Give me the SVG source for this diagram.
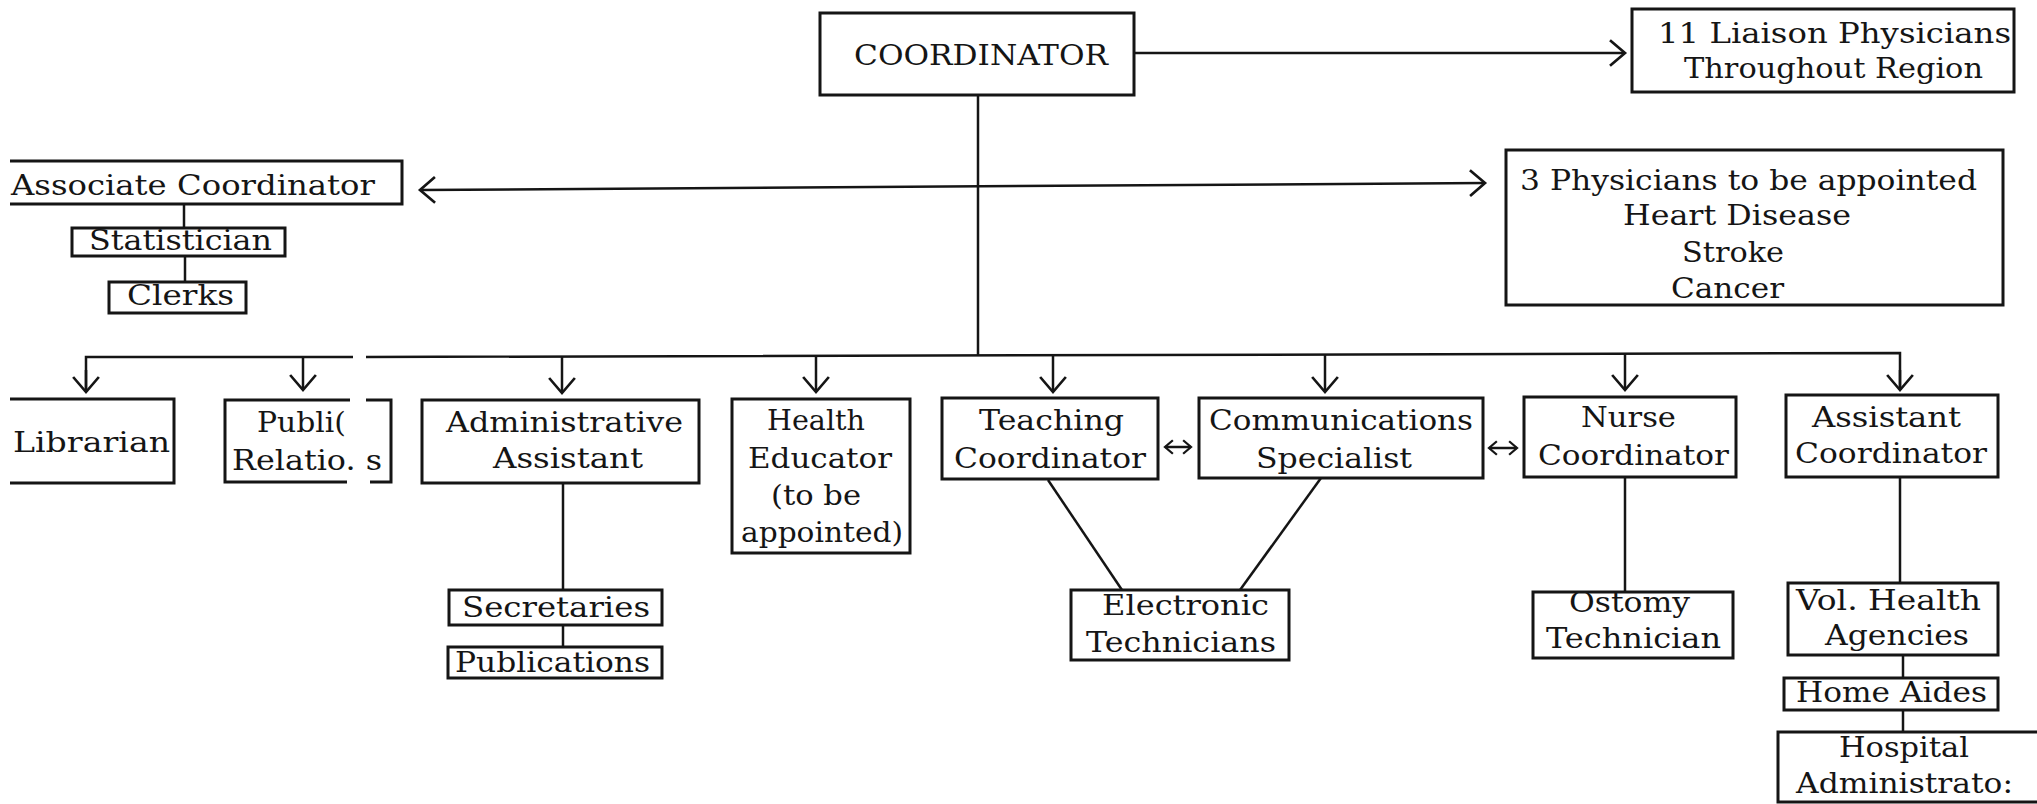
<svg xmlns="http://www.w3.org/2000/svg" width="2037" height="804" viewBox="0 0 2037 804">
<style>
.box{fill:#fff;stroke:#151515;stroke-width:3}
.ob{fill:none;stroke:#151515;stroke-width:3}
.ln{fill:none;stroke:#151515;stroke-width:2.5}
text{font-family:"DejaVu Serif","Liberation Serif",serif;font-size:27px;fill:#151515}
</style>
<defs>
<marker id="ah" markerUnits="userSpaceOnUse" markerWidth="30" markerHeight="30" viewBox="-16 -14 20 28" refX="0" refY="0" orient="auto-start-reverse">
<path d="M-14,-12 L0,0 L-14,12" fill="none" stroke="#151515" stroke-width="2.5"/>
</marker>
<marker id="sh" markerUnits="userSpaceOnUse" markerWidth="14" markerHeight="18" viewBox="-9 -8 12 16" refX="0" refY="0" orient="auto-start-reverse">
<path d="M-7,-6 L0,0 L-7,6" fill="none" stroke="#151515" stroke-width="2"/>
</marker>
</defs>
<rect width="2037" height="804" fill="#fff"/>

<g id="connectors">
<line class="ln" x1="1134" y1="53" x2="1625" y2="53" marker-end="url(#ah)"/>
<line class="ln" x1="420" y1="190" x2="1485" y2="183" marker-start="url(#ah)" marker-end="url(#ah)"/>
<line class="ln" x1="978" y1="95" x2="978" y2="356"/>
<path class="ln" d="M86,392 V357 H353 M366,357 L1900,353 V390"/>
<line class="ln" x1="303" y1="357" x2="303" y2="390" marker-end="url(#ah)"/>
<line class="ln" x1="562" y1="356" x2="562" y2="393" marker-end="url(#ah)"/>
<line class="ln" x1="816" y1="356" x2="816" y2="392" marker-end="url(#ah)"/>
<line class="ln" x1="1053" y1="355" x2="1053" y2="392" marker-end="url(#ah)"/>
<line class="ln" x1="1325" y1="355" x2="1325" y2="392" marker-end="url(#ah)"/>
<line class="ln" x1="1625" y1="354" x2="1625" y2="390" marker-end="url(#ah)"/>
<line class="ln" x1="86" y1="370" x2="86" y2="392" marker-end="url(#ah)"/>
<line class="ln" x1="1900" y1="370" x2="1900" y2="390" marker-end="url(#ah)"/>
<line class="ln" x1="184" y1="204" x2="184" y2="228"/>
<line class="ln" x1="185" y1="256" x2="185" y2="282"/>
<line class="ln" x1="563" y1="483" x2="563" y2="590"/>
<line class="ln" x1="563" y1="625" x2="563" y2="647"/>
<line class="ln" x1="1048" y1="480" x2="1122" y2="590"/>
<line class="ln" x1="1321" y1="478" x2="1240" y2="590"/>
<line class="ln" x1="1625" y1="477" x2="1625" y2="592"/>
<line class="ln" x1="1900" y1="477" x2="1900" y2="583"/>
<line class="ln" x1="1903" y1="655" x2="1903" y2="678"/>
<line class="ln" x1="1903" y1="710" x2="1903" y2="732"/>
<line class="ln" x1="1165" y1="447" x2="1191" y2="447" stroke-width="2" marker-start="url(#sh)" marker-end="url(#sh)"/>
<line class="ln" x1="1489" y1="448" x2="1517" y2="448" stroke-width="2" marker-start="url(#sh)" marker-end="url(#sh)"/>
</g>

<g id="coordinator">
<rect class="box" x="820" y="13" width="314" height="82"/>
<text x="854" y="65" textLength="254" lengthAdjust="spacingAndGlyphs">COORDINATOR</text>
</g>
<g id="liaison">
<rect class="box" x="1632" y="9" width="382" height="83"/>
<text x="1658" y="43" textLength="353" lengthAdjust="spacingAndGlyphs">11 Liaison Physicians</text>
<text x="1684" y="78" textLength="299" lengthAdjust="spacingAndGlyphs">Throughout Region</text>
</g>
<g id="associate-coordinator">
<path class="ob" d="M10,161 H402 V204 H10"/>
<text x="11" y="195" textLength="364" lengthAdjust="spacingAndGlyphs">Associate Coordinator</text>
</g>
<g id="statistician">
<rect class="box" x="72" y="228" width="213" height="28"/>
<text x="89" y="250" font-size="25" textLength="183" lengthAdjust="spacingAndGlyphs">Statistician</text>
</g>
<g id="clerks">
<rect class="box" x="109" y="282" width="137" height="31"/>
<text x="127" y="305" textLength="107" lengthAdjust="spacingAndGlyphs">Clerks</text>
</g>
<g id="physicians">
<rect class="box" x="1506" y="150" width="497" height="155"/>
<text x="1520" y="190" textLength="457" lengthAdjust="spacingAndGlyphs">3 Physicians to be appointed</text>
<text x="1623" y="225" textLength="228" lengthAdjust="spacingAndGlyphs">Heart Disease</text>
<text x="1682" y="262" textLength="102" lengthAdjust="spacingAndGlyphs">Stroke</text>
<text x="1671" y="298" textLength="113" lengthAdjust="spacingAndGlyphs">Cancer</text>
</g>
<g id="librarian">
<path class="ob" d="M10,399 H174 V483 H10"/>
<text x="13" y="452" textLength="157" lengthAdjust="spacingAndGlyphs">Librarian</text>
</g>
<g id="public-relations">
<path class="ob" d="M350,400 H225 V482 H347 M370,482 H391 V400 H366"/>
<text x="257" y="432" textLength="89" lengthAdjust="spacingAndGlyphs">Publi(</text>
<text x="232" y="470" textLength="150" lengthAdjust="spacingAndGlyphs">Relatio. s</text>
</g>
<g id="administrative-assistant">
<rect class="box" x="422" y="400" width="277" height="83"/>
<text x="446" y="432" textLength="237" lengthAdjust="spacingAndGlyphs">Administrative</text>
<text x="493" y="468" textLength="150" lengthAdjust="spacingAndGlyphs">Assistant</text>
</g>
<g id="secretaries">
<rect class="box" x="449" y="590" width="213" height="35"/>
<text x="462" y="617" textLength="188" lengthAdjust="spacingAndGlyphs">Secretaries</text>
</g>
<g id="publications">
<rect class="box" x="448" y="647" width="214" height="31"/>
<text x="455" y="672" textLength="195" lengthAdjust="spacingAndGlyphs">Publications</text>
</g>
<g id="health-educator">
<rect class="box" x="732" y="399" width="178" height="154"/>
<text x="767" y="430" textLength="98" lengthAdjust="spacingAndGlyphs">Health</text>
<text x="748" y="468" textLength="144" lengthAdjust="spacingAndGlyphs">Educator</text>
<text x="771" y="505" textLength="90" lengthAdjust="spacingAndGlyphs">(to be</text>
<text x="741" y="542" textLength="162" lengthAdjust="spacingAndGlyphs">appointed)</text>
</g>
<g id="teaching-coordinator">
<rect class="box" x="942" y="398" width="216" height="81"/>
<text x="979" y="430" textLength="145" lengthAdjust="spacingAndGlyphs">Teaching</text>
<text x="954" y="468" textLength="192" lengthAdjust="spacingAndGlyphs">Coordinator</text>
</g>
<g id="communications-specialist">
<rect class="box" x="1199" y="398" width="284" height="80"/>
<text x="1209" y="430" textLength="264" lengthAdjust="spacingAndGlyphs">Communications</text>
<text x="1256" y="468" textLength="156" lengthAdjust="spacingAndGlyphs">Specialist</text>
</g>
<g id="electronic-technicians">
<rect class="box" x="1071" y="590" width="218" height="70"/>
<text x="1102" y="615" textLength="167" lengthAdjust="spacingAndGlyphs">Electronic</text>
<text x="1086" y="652" textLength="190" lengthAdjust="spacingAndGlyphs">Technicians</text>
</g>
<g id="nurse-coordinator">
<rect class="box" x="1524" y="397" width="212" height="80"/>
<text x="1581" y="427" textLength="95" lengthAdjust="spacingAndGlyphs">Nurse</text>
<text x="1538" y="465" textLength="191" lengthAdjust="spacingAndGlyphs">Coordinator</text>
</g>
<g id="ostomy-technician">
<rect class="box" x="1533" y="592" width="200" height="66"/>
<text x="1569" y="612" textLength="121" lengthAdjust="spacingAndGlyphs">Ostomy</text>
<text x="1546" y="648" textLength="175" lengthAdjust="spacingAndGlyphs">Technician</text>
</g>
<g id="assistant-coordinator">
<rect class="box" x="1786" y="395" width="212" height="82"/>
<text x="1812" y="427" textLength="149" lengthAdjust="spacingAndGlyphs">Assistant</text>
<text x="1795" y="463" textLength="192" lengthAdjust="spacingAndGlyphs">Coordinator</text>
</g>
<g id="vol-health-agencies">
<rect class="box" x="1788" y="583" width="210" height="72"/>
<text x="1796" y="610" textLength="185" lengthAdjust="spacingAndGlyphs">Vol. Health</text>
<text x="1825" y="645" textLength="144" lengthAdjust="spacingAndGlyphs">Agencies</text>
</g>
<g id="home-aides">
<rect class="box" x="1784" y="678" width="214" height="32"/>
<text x="1796" y="702" textLength="191" lengthAdjust="spacingAndGlyphs">Home Aides</text>
</g>
<g id="hospital-administrator">
<path class="ob" d="M2037,732 H1778 V802 H2037"/>
<text x="1839" y="757" textLength="130" lengthAdjust="spacingAndGlyphs">Hospital</text>
<text x="1796" y="793" textLength="217" lengthAdjust="spacingAndGlyphs">Administrato:</text>
</g>
</svg>
